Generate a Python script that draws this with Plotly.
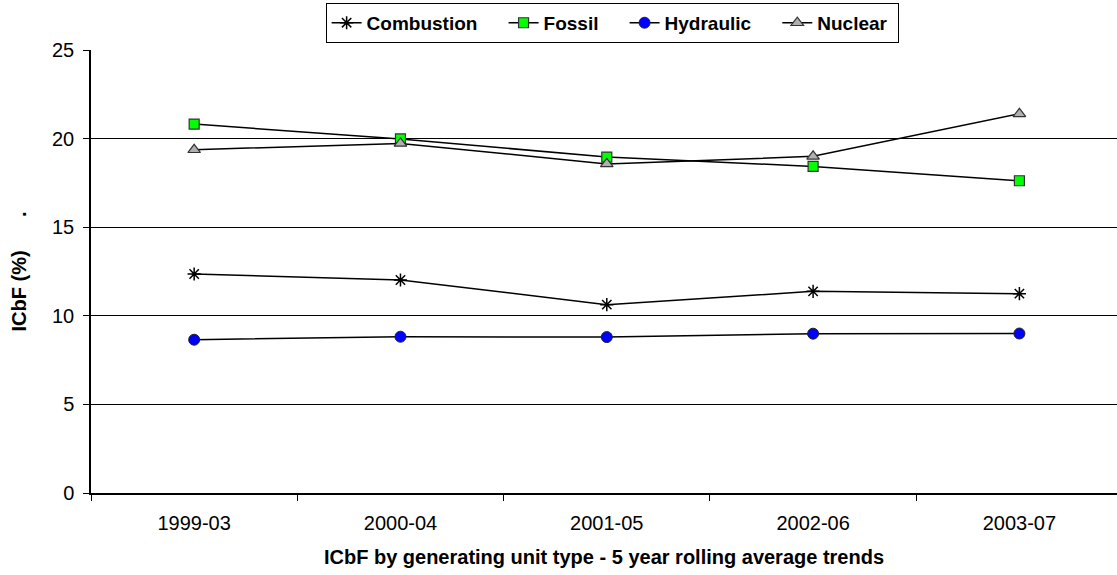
import plotly.graph_objects as go

categories = ["1999-03", "2000-04", "2001-05", "2002-06", "2003-07"]
combustion = [12.36, 12.02, 10.63, 11.38, 11.25]
fossil = [20.82, 19.98, 18.96, 18.43, 17.62]
hydraulic = [8.65, 8.82, 8.80, 8.99, 9.00]
nuclear = [19.37, 19.73, 18.57, 19.00, 21.40]
y_ticks = [0, 5, 10, 15, 20, 25]

FONT = "Liberation Sans, Arial, sans-serif"
PAD = "\u00a0" * 4

fig = go.Figure()
fig.add_trace(go.Scatter(
    x=categories, y=combustion, name="Combustion" + PAD, mode="lines+markers",
    line=dict(color="black", width=1.5),
    marker=dict(symbol="asterisk-open", size=11, color="black", line=dict(color="black", width=1.5)),
))
fig.add_trace(go.Scatter(
    x=categories, y=fossil, name="Fossil" + PAD, mode="lines+markers",
    line=dict(color="black", width=1.5),
    marker=dict(symbol="square", size=10, color="#00FF00", line=dict(color="#333333", width=1.2)),
))
fig.add_trace(go.Scatter(
    x=categories, y=hydraulic, name="Hydraulic" + PAD, mode="lines+markers",
    line=dict(color="black", width=1.5),
    marker=dict(symbol="circle", size=11, color="#0000FF", line=dict(color="#222222", width=1)),
))
fig.add_trace(go.Scatter(
    x=categories, y=nuclear, name="Nuclear\u00a0", mode="lines+markers",
    line=dict(color="black", width=1.5),
    marker=dict(symbol="triangle-up", size=11, color="#B0B0B0", line=dict(color="#333333", width=1.2)),
))

fig.update_layout(
    width=1117, height=575,
    margin=dict(l=91, r=0, t=50, b=82, autoexpand=False),
    paper_bgcolor="white", plot_bgcolor="white",
    font=dict(family=FONT, size=20, color="black"),
    showlegend=True,
    legend=dict(
        orientation="h", xref="container", yref="container",
        x=0.548, xanchor="center", y=0.995, yanchor="top",
        bordercolor="black", borderwidth=1, bgcolor="white",
        font=dict(family=FONT, size=19, color="black", weight="bold"),
        itemwidth=30, tracegroupgap=0,
    ),
    xaxis=dict(
        type="category", range=[-0.5, 4.473],
        tickson="boundaries", ticks="outside", ticklen=6, tickcolor="black", tickwidth=1,
        showline=True, linecolor="black", linewidth=2,
        showgrid=False, zeroline=False,
        tickfont=dict(family=FONT, size=20),
        ticklabelstandoff=11,
        title=dict(text="<b>ICbF by generating unit type - 5 year rolling average trends</b>",
                   font=dict(family=FONT, size=20), standoff=17),
    ),
    yaxis=dict(
        range=[0, 25], tickvals=y_ticks, ticktext=[str(v) for v in y_ticks],
        ticks="outside", ticklen=6, tickcolor="black", tickwidth=1,
        showline=True, linecolor="black", linewidth=1.5,
        showgrid=True, gridcolor="black", gridwidth=1, zeroline=False,
        tickfont=dict(family=FONT, size=20),
        ticklabelstandoff=5,
        title=dict(text="<b>ICbF (%)\u00a0\u00a0\u00a0\u00a0\u00a0\u00a0.</b>",
                   font=dict(family=FONT, size=20), standoff=20),
    ),
)

fig.write_html("out.html")
